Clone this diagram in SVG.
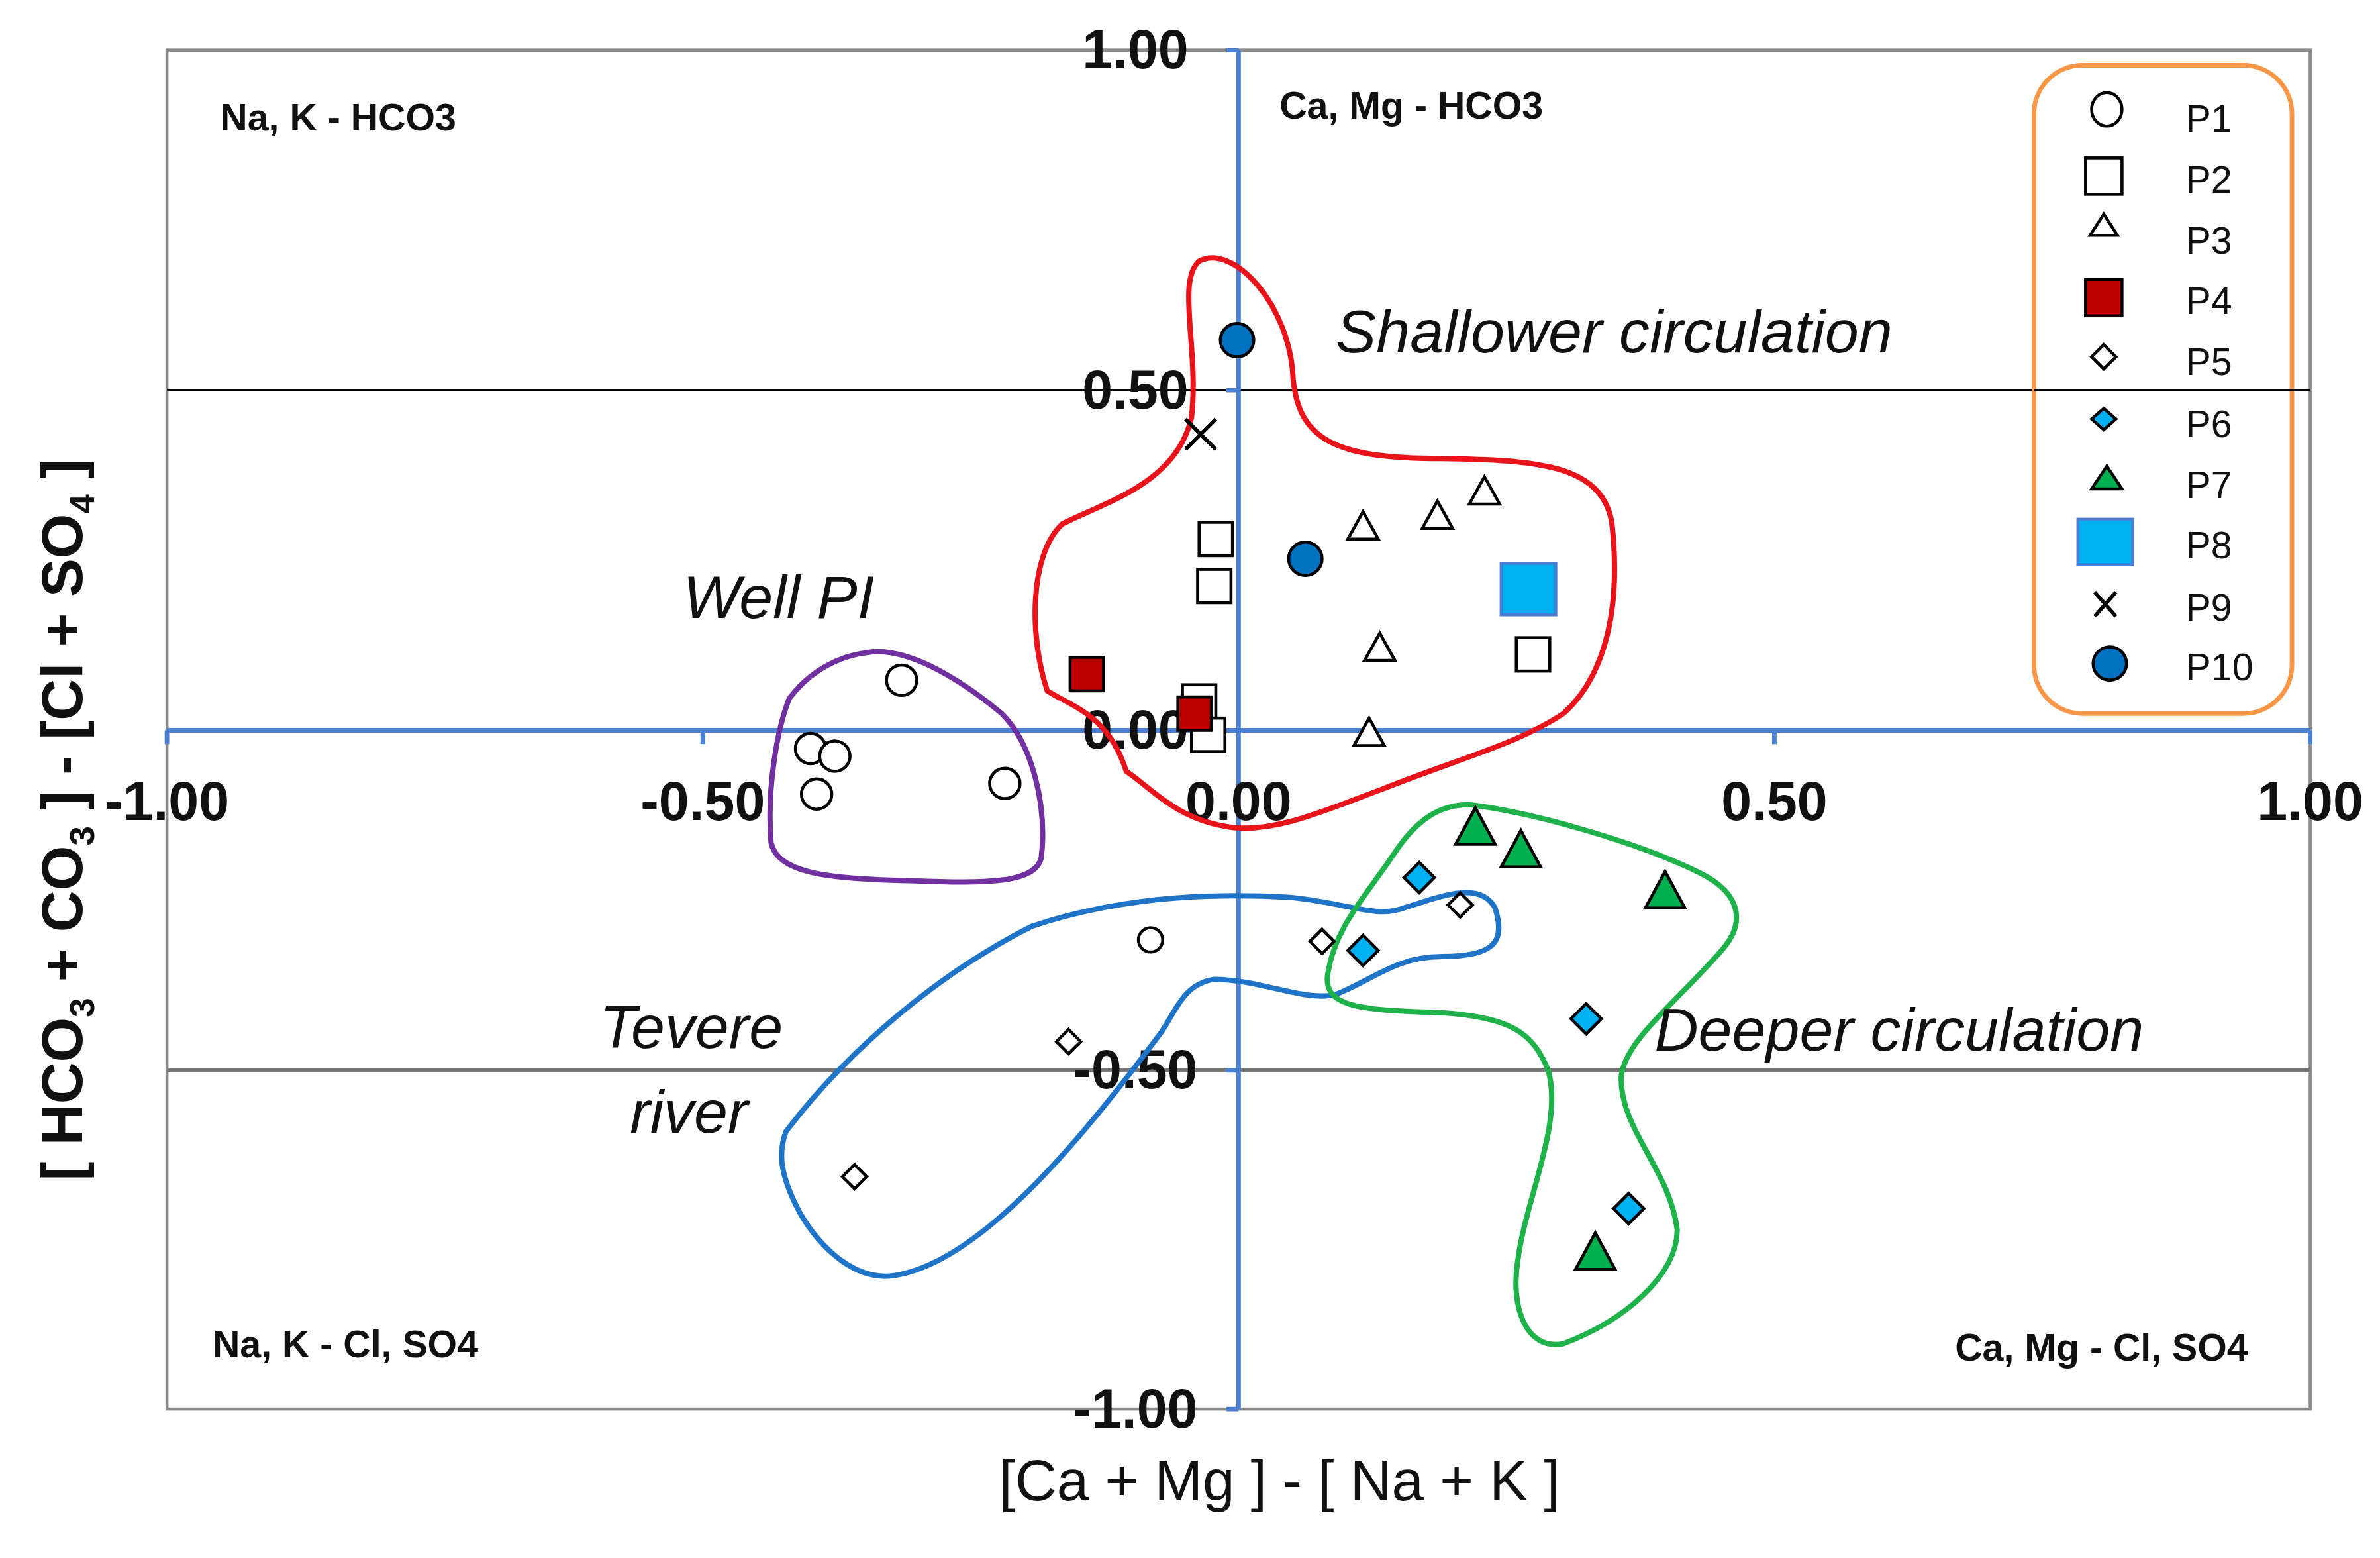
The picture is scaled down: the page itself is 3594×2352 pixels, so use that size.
<svg xmlns="http://www.w3.org/2000/svg" width="3594" height="2352" viewBox="0 0 3594 2352">
<style>
.t{font-family:"Liberation Sans Narrow","Liberation Sans",sans-serif;fill:#111}
.tk{font-size:36px;font-weight:bold}
.q{font-size:25px;font-weight:bold}
.it{font-size:40px;font-style:italic}
.lg{font-family:"Liberation Sans",sans-serif;font-size:25px;fill:#111}
.o{fill:#fff;stroke:#000;stroke-width:2}
.ax{stroke:#4a7fd4;stroke-width:3}
</style>
<rect width="3594" height="2352" fill="#fff"/>
<g transform="scale(2.2921)">
<g id="frame">
<rect x="110" y="33" width="1412" height="895" fill="none" stroke="#888" stroke-width="2"/>
<line x1="110" y1="257" x2="1522" y2="257" stroke="#000" stroke-width="1.5"/>
<line x1="110" y1="705" x2="1522" y2="705" stroke="#777" stroke-width="2.5"/>
<line class="ax" x1="816" y1="33" x2="816" y2="928"/>
<line class="ax" x1="110" y1="481" x2="1522" y2="481"/>
<path class="ax" d="M110 481v9M463 481v9M1169 481v9M1522 481v9M816 33h-8M816 257h-8M816 705h-8M816 928h-8" fill="none"/>
</g>
<g id="ticks" class="t tk">
<text x="748" y="45" text-anchor="middle">1.00</text>
<text x="748" y="269" text-anchor="middle">0.50</text>
<text x="748" y="493" text-anchor="middle">0.00</text>
<text x="748" y="717" text-anchor="middle">-0.50</text>
<text x="748" y="940" text-anchor="middle">-1.00</text>
<text x="110" y="540" text-anchor="middle">-1.00</text>
<text x="463" y="540" text-anchor="middle">-0.50</text>
<text x="816" y="540" text-anchor="middle">0.00</text>
<text x="1169" y="540" text-anchor="middle">0.50</text>
<text x="1522" y="540" text-anchor="middle">1.00</text>
</g>
<g id="quadrants" class="t q">
<text x="145" y="86">Na, K - HCO3</text>
<text x="843" y="78">Ca, Mg - HCO3</text>
<text x="140" y="894">Na, K - Cl, SO4</text>
<text x="1288" y="896">Ca, Mg - Cl, SO4</text>
</g>
<g id="axis-titles" class="t">
<text x="843" y="988" text-anchor="middle" font-size="38">[Ca + Mg ] - [ Na + K ]</text>
<text transform="translate(54,540) rotate(-90)" text-anchor="middle" font-size="38" font-weight="bold" font-family="Liberation Sans,sans-serif">[ HCO<tspan font-size="23" dy="8">3</tspan><tspan dy="-8"> + CO</tspan><tspan font-size="23" dy="8">3</tspan><tspan dy="-8"> ] - [Cl + SO</tspan><tspan font-size="23" dy="8">4</tspan><tspan dy="-8"> ]</tspan></text>
</g>
<g id="groups" fill="none" stroke-width="3.5">
<path id="shallow" stroke="#e8141b" d="M790 172C812 160 850 200 852 250C856 290 880 302 950 302C1010 303 1056 305 1062 345C1068 400 1058 445 1030 470C1000 490 960 500 910 520C870 535 840 548 812 545C775 540 760 520 742 508C730 470 705 465 690 455C678 420 678 365 700 345C730 330 775 318 785 275C790 230 775 185 790 172Z"/>
<path id="well" stroke="#7030a0" d="M570 430C595 425 630 445 660 470C680 490 690 530 686 565C682 582 650 582 600 580C545 579 512 575 508 555C505 520 512 480 520 460C535 440 555 432 570 430Z"/>
<path id="tevere" stroke="#1f74c8" d="M518 745C560 690 620 640 680 610C740 590 800 588 850 591C890 595 905 605 925 598C950 590 975 580 985 598C992 620 985 630 950 630C920 630 905 645 880 655C860 660 830 645 800 645C780 648 775 665 765 680C720 740 650 830 590 840C560 845 535 815 525 795C515 775 512 760 518 745Z"/>
<path id="deeper" stroke="#1fb14a" d="M968 530C1010 535 1080 555 1120 575C1150 590 1148 610 1135 625C1105 660 1070 685 1068 710C1068 745 1100 770 1105 810C1105 840 1070 870 1030 885C1005 890 995 860 1000 830C1005 790 1030 740 1020 705C1010 680 995 670 950 667C900 665 870 665 875 640C880 610 900 590 920 560C935 538 950 530 968 530Z"/>
</g>
<g id="labels" class="t it">
<text x="880" y="232">Shallower circulation</text>
<text x="450" y="407">Well PI</text>
<text x="395" y="690">Tevere</text>
<text x="415" y="746">river</text>
<text x="1090" y="692">Deeper circulation</text>
</g>
<g id="points" stroke="#000" stroke-width="2">
<g id="P1" class="o"><circle cx="594" cy="448" r="10"/><circle cx="534" cy="493" r="10"/><circle cx="550" cy="498" r="10"/><circle cx="538" cy="523" r="10"/><circle cx="662" cy="516" r="10"/><circle cx="758" cy="619" r="8"/></g>
<g id="P2" class="o"><rect x="790" y="344" width="22" height="22"/><rect x="789" y="375" width="22" height="22"/><rect x="999" y="420" width="22" height="22"/><rect x="779" y="451" width="22" height="22"/><rect x="785" y="473" width="22" height="22"/></g>
<g id="P3" class="o"><path d="M898 337l-10 18h20zM947 330l-10 18h20zM978 314l-10 18h20zM909 417l-10 18h20zM902 473l-10 18h20z"/></g>
<g id="P4" fill="#c00000"><rect x="705" y="433" width="22" height="22"/><rect x="776" y="459" width="22" height="22"/></g>
<g id="P5" class="o"><path d="M871 612l8 8-8 8-8-8zM962 588l8 8-8 8-8-8zM704 678l8 8-8 8-8-8zM563 767l8 8-8 8-8-8z"/></g>
<g id="P6" fill="#00b0f0"><path d="M935 568l10 10-10 10-10-10zM898 616l10 10-10 10-10-10zM1045 661l10 10-10 10-10-10zM1073 786l10 10-10 10-10-10z"/></g>
<g id="P7" fill="#00b050"><path d="M972 532l-13 24h26zM1002 547l-13 24h26zM1097 574l-13 24h26zM1051 812l-13 24h26z"/></g>
<g id="P8"><rect x="989" y="371" width="36" height="34" fill="#00b0f0" stroke="#4a7fd4"/></g>
<g id="P9"><path d="M781 276l20 20M801 276l-20 20" stroke-width="2.5"/></g>
<g id="P10" fill="#0070c0"><circle cx="815" cy="224" r="11"/><circle cx="860" cy="368" r="11"/></g>
</g>
<g id="legend">
<rect x="1340" y="43" width="170" height="427" rx="32" fill="#fff" stroke="#f79646" stroke-width="3"/>
<line x1="1340" y1="257" x2="1522" y2="257" stroke="#000" stroke-width="1.5"/>
<g stroke="#000" stroke-width="2">
<ellipse cx="1388" cy="72" rx="10" ry="11" fill="#fff"/>
<rect x="1374" y="104" width="24" height="24" fill="#fff"/>
<path d="M1386 141l-9 14h18z" fill="#fff"/>
<rect x="1374" y="184" width="24" height="24" fill="#c00000"/>
<path d="M1386 227l8 8-8 8-8-8z" fill="#fff"/>
<path d="M1386 269l8 7-8 7-8-7z" fill="#00b0f0"/>
<path d="M1388 307l-10 15h20z" fill="#00b050"/>
<rect x="1369" y="342" width="36" height="30" fill="#00b0f0" stroke="#4a7fd4"/>
<path d="M1380 390l14 16M1394 390l-14 16" stroke-width="2.5"/>
<ellipse cx="1390" cy="437" rx="11" ry="11" fill="#0070c0"/>
</g>
<g class="lg">
<text x="1440" y="87">P1</text><text x="1440" y="127">P2</text><text x="1440" y="167">P3</text><text x="1440" y="207">P4</text><text x="1440" y="247">P5</text><text x="1440" y="288">P6</text><text x="1440" y="328">P7</text><text x="1440" y="368">P8</text><text x="1440" y="409">P9</text><text x="1440" y="448">P10</text>
</g>
</g>
</g>
</svg>
